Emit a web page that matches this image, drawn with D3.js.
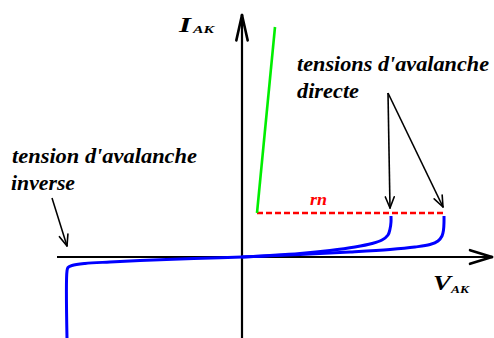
<!DOCTYPE html>
<html>
<head>
<meta charset="utf-8">
<script src="https://cdn.jsdelivr.net/npm/d3@7"></script>
<style>
  html, body { margin: 0; padding: 0; background: #fff; }
  svg { display: block; }
</style>
</head>
<body>
<svg id="chart" width="494" height="338"></svg>
<script>
// Reverse characteristic (V, I) ending in the reverse avalanche
const reverseV = [-17.5, -17.5, -17.4, -17.0, -15.7, -13.2, -10.2, -6.2, -2.2, 0];
const reverseI = [-8.1, -1.4, -1.05, -0.85, -0.65, -0.5, -0.35, -0.2, -0.08, 0];

// Forward characteristic, first avalanche voltage
const forward1V = [0, 2.8, 5.8, 8.8, 11.3, 13.0, 14.0, 14.6, 14.8, 14.9, 14.9];
const forward1I = [0, 0.15, 0.35, 0.65, 1.0, 1.35, 1.7, 2.2, 2.8, 3.5, 4.1];

// Forward characteristic, second avalanche voltage
const forward2V = [0, 5.8, 10.8, 14.8, 17.3, 18.8, 19.6, 20.0, 20.15, 20.2, 20.2];
const forward2I = [0, 0.25, 0.5, 0.75, 1.0, 1.25, 1.6, 2.1, 2.7, 3.5, 4.1];

// On-state branch (green) and holding level rn (red dashed)
const onStateV = [1.5, 3.3];
const onStateI = [4.4, 23.0];
const holdV = [1.5, 20.3];
const holdI = [4.4, 4.4];

// Axis extents
const vExtent = [-18.5, 25];
const iExtent = [-8.1, 24.2];

// Annotation anchors (V, I)
const inverseArrow = { from: [-19.0, 5.9], to: [-17.5, 1.1] };
const directFrom = [14.6, 16.4];
const directTo = [[14.8, 4.9], [20.1, 5.0]];

const SERIF = "'Liberation Serif', 'DejaVu Serif', 'Times New Roman', Times, serif";

const svg = d3.select("#chart");
const x = d3.scaleLinear().domain(vExtent).range([57, 492]);
const y = d3.scaleLinear().domain(iExtent).range([338, 15]);

const zip = (a, b) => a.map((v, i) => [v, b[i]]);
const line = d3.line().x(d => x(d[0])).y(d => y(d[1]));
const smooth = d3.line().x(d => x(d[0])).y(d => y(d[1])).curve(d3.curveCatmullRom.alpha(0.5));

// Axes
const g = svg.append("g");
g.append("line").attr("x1", x(vExtent[0])).attr("x2", x(vExtent[1]))
  .attr("y1", y(0)).attr("y2", y(0)).attr("stroke", "#000").attr("stroke-width", 2.2);
g.append("line").attr("x1", x(0)).attr("x2", x(0))
  .attr("y1", y(iExtent[0])).attr("y2", y(iExtent[1])).attr("stroke", "#000").attr("stroke-width", 2.2);

// Arrowheads drawn as two barbs
function barbs(tip, angle, len, spread, width) {
  [-spread, spread].forEach(s => {
    const a = angle + Math.PI + s;
    svg.append("line")
      .attr("x1", tip[0]).attr("y1", tip[1])
      .attr("x2", tip[0] + len * Math.cos(a)).attr("y2", tip[1] + len * Math.sin(a))
      .attr("stroke", "#000").attr("stroke-width", width).attr("stroke-linecap", "round");
  });
}
barbs([x(vExtent[1]), y(0)], 0, 23, 0.3, 2.6);
barbs([x(0), y(iExtent[1])], -Math.PI / 2, 26, 0.22, 2.6);

// Characteristic curves
[zip(reverseV, reverseI), zip(forward1V, forward1I), zip(forward2V, forward2I)].forEach(pts => {
  svg.append("path").datum(pts).attr("d", smooth)
    .attr("fill", "none").attr("stroke", "#0000ff").attr("stroke-width", 3);
});

svg.append("path").datum(zip(holdV, holdI)).attr("d", line)
  .attr("fill", "none").attr("stroke", "#ff0000").attr("stroke-width", 2.4)
  .attr("stroke-dasharray", "6,3");
svg.append("path").datum(zip(onStateV, onStateI)).attr("d", line)
  .attr("fill", "none").attr("stroke", "#00ee00").attr("stroke-width", 2.6);

// Annotation arrows
function arrow(from, to) {
  const p0 = [x(from[0]), y(from[1])], p1 = [x(to[0]), y(to[1])];
  svg.append("line").attr("x1", p0[0]).attr("y1", p0[1]).attr("x2", p1[0]).attr("y2", p1[1])
    .attr("stroke", "#000").attr("stroke-width", 1.6);
  barbs(p1, Math.atan2(p1[1] - p0[1], p1[0] - p0[0]), 12, 0.38, 1.6);
}
arrow(inverseArrow.from, inverseArrow.to);
directTo.forEach(t => arrow(directFrom, t));

// Labels
function text(str, px, py, size, len, color) {
  const t = svg.append("text").attr("x", px).attr("y", py)
    .attr("font-family", SERIF).attr("font-style", "italic").attr("font-weight", "bold")
    .attr("font-size", size).attr("fill", color || "#000").text(str);
  if (len) t.attr("textLength", len).attr("lengthAdjust", "spacingAndGlyphs");
  return t;
}
text("tension d'avalanche", 12, 163, 20, 185);
text("inverse", 11, 190, 20, 64);
text("tensions d'avalanche", 297, 71, 20, 192);
text("directe", 297, 98, 20, 62);
text("rn", 310, 205, 17, 17, "#ff0000");

text("I", 179, 32, 20, 12);
text("AK", 193, 33, 10, 21);
text("V", 433, 290, 21, 18);
text("AK", 451, 293, 10, 18);
</script>
</body>
</html>
